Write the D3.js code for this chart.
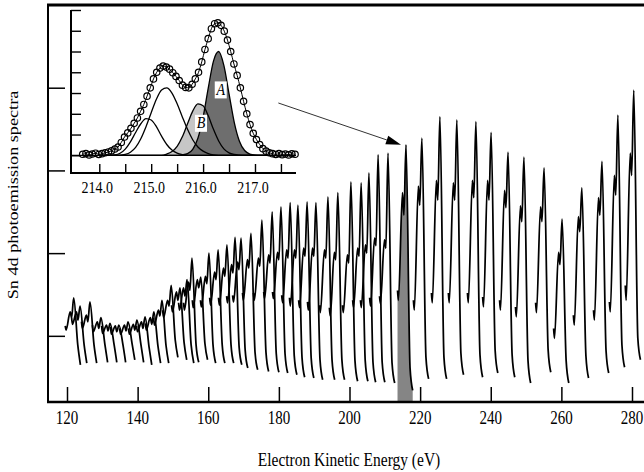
<!DOCTYPE html>
<html><head><meta charset="utf-8">
<script src="https://cdn.jsdelivr.net/npm/d3@7"></script>
<style>body{margin:0;background:#fff} svg{display:block}</style>
</head><body>
<svg id="c" width="644" height="472"></svg>
<script>
// ---------------- main panel data ----------------
const xTicks = [120,140,160,180,200,220,240,260,280];
const yTicks = [100,200,300,400];
// energy (eV) of the main 4d peak of every recorded spectrum
const segPeakE = [121.9,123.7,126.5,129.6,132.2,134.7,137.3,139.8,142.1,144.6,
  146.9,149.5,152.0,154.0,155.4,157.9,160.2,162.8,165.3,167.6,
  169.3,172.1,175.2,178.1,180.6,183.2,185.4,188.0,190.5,193.9,
  196.7,200.4,203.3,205.5,208.1,210.9,216.0,220.5,225.6,230.4,
  235.8,240.1,244.9,249.4,255.1,260.2,265.8,271.5,276.0,280.5];
// intensities (arb. units) read at the key points of every spectrum
const segStart = [112,122,117,113,112,111,109,109,112,115, 122,131,137,140,140,143,143,146,146,148,
  149,152,152,153,153,149,146,143,141,137, 134,137,143,143,146,148,155,143,152,152,
  152,147,143,135,140,109,125,131,141,161];
const segHook = [107,114,109,105,103,102,102,102,105,107, 113,122,129,131,131,134,135,137,137,140,
  141,143,143,145,145,140,136,134,131,128, 124,128,134,134,136,139,143,131,140,140,
  140,135,131,123,128,97,113,119,129,143];
const segShoulder = [129,129,125,117,113,112,113,114,117,122, 131,143,153,158,165,168,172,177,182,186,
  189,192,194,198,201,204,204,206,206,204, 201,198,206,210,218,216,273,281,288,285,
  288,288,276,257,256,201,244,267,294,321];
const segDip = [122,119,117,109,106,105,106,107,109,114, 124,136,143,148,155,158,163,168,172,176,
  180,182,184,188,192,194,194,196,196,194, 192,188,196,200,209,206,246,258,264,264,
  267,264,255,238,238,186,226,246,270,294];
const segPeak = [146,136,141,122,115,113,117,119,123,129, 143,161,158,168,194,171,200,204,210,219,
  218,224,240,250,256,261,258,262,261,268, 273,286,285,297,319,321,331,339,365,361,
  359,346,322,316,303,241,279,311,367,397];
const segKnee = [89,89,89,89,89,89,90,89,86,88, 88,95,92,89,89,91,89,89,89,86,
  83,80,80,79,78,76,74,73,71,71, 71,70,70,68,68,67,61,74,74,79,
  77,82,77,70,83,70,76,82,89,97];
const segBottom = [65,67,67,68,68,68,71,68,65,67, 67,74,71,67,68,71,67,67,67,65,
  61,59,57,56,55,53,50,49,47,47, 47,45,45,44,44,43,34,48,48,53,
  50,55,50,43,56,43,49,55,62,71];
// energy offsets (eV, relative to the peak) of the key points above
const segOffsets = [-2.4,-2.15,-1.0,-0.6,0,1.15,1.9];
const highlightSeg = 36;   // spectrum shown enlarged in the inset

// ---------------- inset data ----------------
const insetStartE = 213.68, insetStepE = 0.062;
const insetData = [0.05,0.08,0.02,0.06,0.10,0.04,0.08,0.12,0.16,0.22,
  0.30,0.40,0.62,0.88,1.08,1.30,1.54,1.80,2.12,2.45,
  2.85,3.25,3.68,4.00,4.20,4.30,4.25,4.15,3.98,3.80,
  3.60,3.38,3.27,3.25,3.42,3.68,4.00,4.50,5.10,5.62,
  6.10,6.34,6.38,6.26,5.98,5.55,5.00,4.40,3.85,3.25,
  2.60,2.00,1.48,1.06,0.76,0.52,0.32,0.20,0.12,0.08,
  0.04,0.08,0.03,0.06,0.02,0.07,0.05];
const compStartE = 214.0, compStepE = 0.1;
const compA = [0,0,0,0,0,0,0,0,0,0,0,0,0,0,0,0,
  0.02,0.08,0.29,0.82,1.84,3.25,4.54,5.0,4.33,2.96,1.59,0.68,0.23,0.06,0.01,0,0,0];
const compB = [0,0,0,0,0,0,0,0,0,0,0,0,0,
  0.06,0.18,0.43,0.89,1.52,2.13,2.48,2.39,1.90,1.25,0.69,0.31,0.12,0.04,0.01,0,0,0,0,0,0];
const compC = [0,0,0,0,0,
  0.04,0.15,0.38,0.80,1.38,2.05,2.70,3.15,3.25,3.00,2.48,1.85,1.25,0.75,0.40,0.20,0.08,0.02,
  0,0,0,0,0,0,0,0,0,0,0];
const compD = [0,0,0,
  0.02,0.10,0.30,0.65,1.10,1.52,1.77,1.70,1.38,0.92,0.52,0.25,0.10,0.03,0.0,
  0,0,0,0,0,0,0,0,0,0,0,0,0,0,0,0];
const insetXTicks = [214,214.5,215,215.5,216,216.5,217,217.5];
const insetXLabels = [214,215,216,217];
const insetYTicks = [0,1,2,3,4,5,6,7];

// ---------------- drawing ----------------
const svg = d3.select('#c');
const FONT = "'Liberation Serif','Times New Roman',serif";
const x = d3.scaleLinear().domain([120,280]).range([67,632]);
const y = d3.scaleLinear().domain([20,500]).range([402,5]);

const keyVals = [segStart,segHook,segShoulder,segDip,segPeak,segKnee,segBottom];
const segments = segPeakE.map((E,i)=>segOffsets.map((o,j)=>[E+o,keyVals[j][i]]));

// highlighted spectrum area
svg.append('path')
  .attr('d', d3.area().x(d=>x(d[0])).y0(y(20)).y1(d=>y(d[1])).curve(d3.curveMonotoneX)(segments[highlightSeg]))
  .attr('fill','#858585');

const line = d3.line().x(d=>x(d[0])).y(d=>y(d[1])).curve(d3.curveMonotoneX);
svg.append('g').selectAll('path').data(segments).join('path')
  .attr('d', line).attr('fill','none').attr('stroke','#000')
  .attr('stroke-width',1.75).attr('stroke-linejoin','round');

// axes (inward ticks)
const gx = svg.append('g').attr('transform',`translate(0,${y(20)})`)
  .call(d3.axisBottom(x).tickValues(xTicks).tickSize(-15).tickSizeOuter(0).tickFormat(''));
gx.select('.domain').remove();
gx.selectAll('line').attr('stroke','#000').attr('stroke-width',1.5);
const gy = svg.append('g').attr('transform','translate(48,0)')
  .call(d3.axisLeft(y).tickValues(yTicks).tickSize(-17).tickSizeOuter(0).tickFormat(''));
gy.select('.domain').remove();
gy.selectAll('line').attr('stroke','#000').attr('stroke-width',1.5);

svg.append('line').attr('x1',47).attr('x2',644).attr('y1',y(20)).attr('y2',y(20)).attr('stroke','#000').attr('stroke-width',2.4);
svg.append('line').attr('x1',48).attr('x2',48).attr('y1',4).attr('y2',403).attr('stroke','#000').attr('stroke-width',2);
svg.append('line').attr('x1',47).attr('x2',644).attr('y1',5).attr('y2',5).attr('stroke','#000').attr('stroke-width',3);

xTicks.forEach(t=>{
  svg.append('text').attr('transform',`translate(${x(t)},424) scale(1,1.25)`)
    .attr('text-anchor','middle').attr('font-family',FONT).attr('font-size',15).text(t);
});
svg.append('text').attr('transform','translate(349,466) scale(1,1.25)')
  .attr('text-anchor','middle').attr('font-family',FONT).attr('font-size',15.5)
  .text('Electron Kinetic Energy (eV)');
svg.append('text').attr('transform','translate(18,195) rotate(-90) scale(1.3,1)')
  .attr('text-anchor','middle').attr('font-family',FONT).attr('font-size',14)
  .text('Sn 4d photoemission spectra');

// ---------------- inset ----------------
const xi = d3.scaleLinear().domain([213.455,217.79]).range([71,296]);
const yi = d3.scaleLinear().domain([-0.853,7]).range([173,10]);
const ig = svg.append('g');
const comp = arr => arr.map((v,i)=>[compStartE+i*compStepE, v]);
const iArea = d3.area().x(d=>xi(d[0])).y0(yi(0)).y1(d=>yi(d[1])).curve(d3.curveMonotoneX);
const iLine = d3.line().x(d=>xi(d[0])).y(d=>yi(d[1])).curve(d3.curveMonotoneX);
ig.append('path').attr('d',iArea(comp(compB))).attr('fill','#c6c6c6');
ig.append('path').attr('d',iArea(comp(compA))).attr('fill','#6e6e6e');
ig.append('line').attr('x1',xi(213.455)).attr('x2',xi(217.79)).attr('y1',yi(0)).attr('y2',yi(0))
  .attr('stroke','#000').attr('stroke-width',1.3);
[compA,compB,compC,compD].forEach(c=>{
  ig.append('path').attr('d',iLine(comp(c))).attr('fill','none').attr('stroke','#000').attr('stroke-width',1.3);
});
const pts = insetData.map((v,i)=>[insetStartE+i*insetStepE, v]);
ig.append('path').attr('d',iLine(pts)).attr('fill','none').attr('stroke','#000').attr('stroke-width',1);
ig.selectAll('circle').data(pts).join('circle')
  .attr('cx',d=>xi(d[0])).attr('cy',d=>yi(d[1])).attr('r',3.2)
  .attr('fill','none').attr('stroke','#000').attr('stroke-width',1.2);

// labels A / B
[[216.34,3.15,'A'],[215.96,1.54,'B']].forEach(([e,u,t])=>{
  ig.append('rect').attr('x',xi(e)-6).attr('y',yi(u)-8.5).attr('width',12).attr('height',17).attr('fill','#fff');
  ig.append('text').attr('transform',`translate(${xi(e)},${yi(u)+5}) scale(1,1.25)`)
    .attr('text-anchor','middle').attr('font-family',FONT).attr('font-style','italic')
    .attr('font-size',14).text(t);
});

// inset axes
const igx = ig.append('g').attr('transform','translate(0,173)')
  .call(d3.axisBottom(xi).tickValues(insetXTicks).tickSize(-9).tickSizeOuter(0).tickFormat(''));
igx.select('.domain').remove();
igx.selectAll('line').attr('stroke','#000').attr('stroke-width',1.4);
const igy = ig.append('g').attr('transform','translate(71,0)')
  .call(d3.axisLeft(yi).tickValues(insetYTicks).tickSize(-10).tickSizeOuter(0).tickFormat(''));
igy.select('.domain').remove();
igy.selectAll('line').attr('stroke','#000').attr('stroke-width',1.4);
ig.append('line').attr('x1',70).attr('x2',296).attr('y1',173).attr('y2',173).attr('stroke','#000').attr('stroke-width',2);
ig.append('line').attr('x1',71).attr('x2',71).attr('y1',yi(7)).attr('y2',174).attr('stroke','#000').attr('stroke-width',2);
insetXLabels.forEach(t=>{
  ig.append('text').attr('transform',`translate(${xi(t)-2},193) scale(1,1.25)`)
    .attr('text-anchor','middle').attr('font-family',FONT).attr('font-size',14).text(d3.format('.1f')(t));
});

// arrow from inset to the highlighted spectrum
const tail = [xi(217.45), yi(2.52)];
const tip = [x(segPeakE[highlightSeg])-5, y(segPeak[highlightSeg])];
const ang = Math.atan2(tip[1]-tail[1], tip[0]-tail[0]);
const L = 15, W = 4.5;
const base = [tip[0]-L*Math.cos(ang), tip[1]-L*Math.sin(ang)];
svg.append('line').attr('x1',tail[0]).attr('y1',tail[1]).attr('x2',base[0]).attr('y2',base[1])
  .attr('stroke','#333').attr('stroke-width',1);
svg.append('path').attr('d',`M${tip[0]},${tip[1]}L${base[0]-W*Math.sin(ang)},${base[1]+W*Math.cos(ang)}L${base[0]+W*Math.sin(ang)},${base[1]-W*Math.cos(ang)}Z`)
  .attr('fill','#000');
</script>
</body></html>
